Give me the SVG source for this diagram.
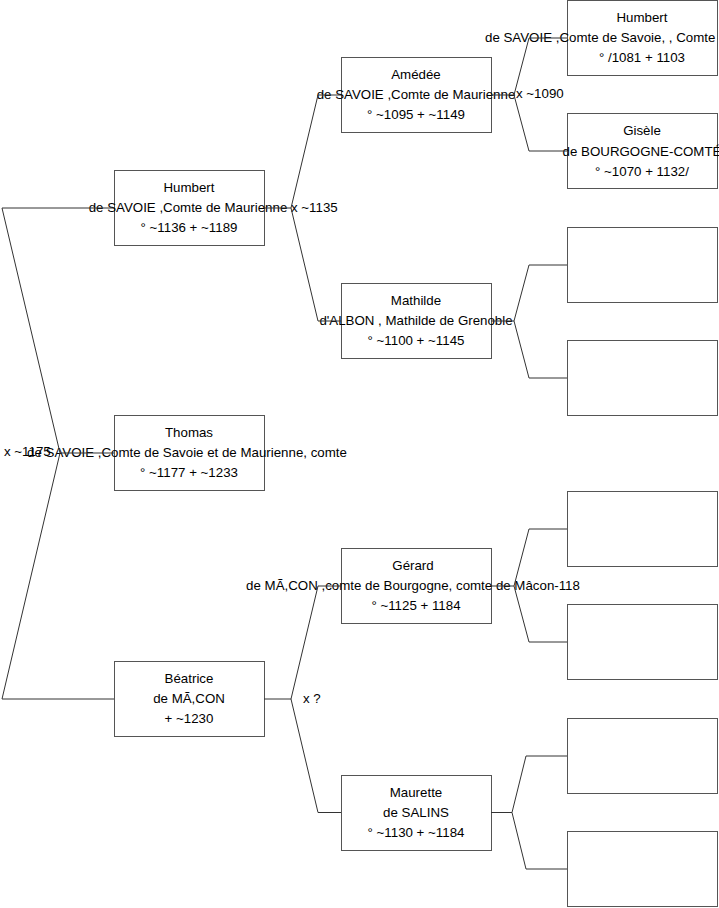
<svg xmlns="http://www.w3.org/2000/svg" width="719" height="908" viewBox="0 0 719 908">
<style>
.box{fill:#fff;stroke:#555;stroke-width:1}
.t{font-family:"Liberation Sans",Arial,sans-serif;font-size:13.3px;fill:#000;text-anchor:middle}
.m{font-family:"Liberation Sans",Arial,sans-serif;font-size:13.3px;fill:#000}
.c{fill:none;stroke:#333;stroke-width:1}
</style>
<rect width="719" height="908" fill="#fff"/>
<g id="n-humbert1">
<rect class="box" x="567.5" y="0.5" width="150" height="75"/>
<text class="t" x="642" y="22">Humbert</text>
<text class="m" x="485" y="42">de SAVOIE ,Comte de Savoie, , Comte d</text>
<text class="t" x="642" y="62">° /1081 + 1103</text>
</g>
<g id="n-gisele">
<rect class="box" x="567.5" y="113.5" width="150" height="75"/>
<text class="t" x="642" y="135">Gisèle</text>
<text class="t" x="642" y="156">de BOURGOGNE-COMTÉ</text>
<text class="t" x="642" y="176">° ~1070 + 1132/</text>
</g>
<g id="n-e1"><rect class="box" x="567.5" y="227.5" width="150" height="75"/></g>
<g id="n-e2"><rect class="box" x="567.5" y="340.5" width="150" height="75"/></g>
<g id="n-e3"><rect class="box" x="567.5" y="491.5" width="150" height="75"/></g>
<g id="n-e4"><rect class="box" x="567.5" y="604.5" width="150" height="75"/></g>
<g id="n-e5"><rect class="box" x="567.5" y="718.5" width="150" height="75"/></g>
<g id="n-e6"><rect class="box" x="567.5" y="831.5" width="150" height="75"/></g>
<g id="n-amedee">
<rect class="box" x="341.5" y="57.5" width="150" height="75"/>
<text class="t" x="416" y="79">Amédée</text>
<text class="t" x="416" y="99">de SAVOIE ,Comte de Maurienne</text>
<text class="t" x="416" y="119">° ~1095 + ~1149</text>
</g>
<g id="n-mathilde">
<rect class="box" x="341.5" y="283.5" width="150" height="75"/>
<text class="t" x="416" y="305">Mathilde</text>
<text class="t" x="416" y="325">d'ALBON , Mathilde de Grenoble</text>
<text class="t" x="416" y="345">° ~1100 + ~1145</text>
</g>
<g id="n-gerard">
<rect class="box" x="341.5" y="548.5" width="150" height="75"/>
<text class="t" x="413" y="570">Gérard</text>
<text class="t" x="413" y="590">de MÃ,CON ,comte de Bourgogne, comte de Mâcon-118</text>
<text class="t" x="416" y="610">° ~1125 + 1184</text>
</g>
<g id="n-maurette">
<rect class="box" x="341.5" y="775.5" width="150" height="75"/>
<text class="t" x="416" y="797">Maurette</text>
<text class="t" x="416" y="817">de SALINS</text>
<text class="t" x="416" y="837">° ~1130 + ~1184</text>
</g>
<g id="n-humbert3">
<rect class="box" x="114.5" y="170.5" width="150" height="75"/>
<text class="t" x="189" y="192">Humbert</text>
<text class="t" x="188" y="212">de SAVOIE ,Comte de Maurienne</text>
<text class="t" x="189" y="232">° ~1136 + ~1189</text>
</g>
<g id="n-thomas">
<rect class="box" x="114.5" y="415.5" width="150" height="75"/>
<text class="t" x="189" y="437">Thomas</text>
<text class="t" x="187" y="457">de SAVOIE ,Comte de Savoie et de Maurienne, comte</text>
<text class="t" x="189" y="477">° ~1177 + ~1233</text>
</g>
<g id="n-beatrice">
<rect class="box" x="114.5" y="661.5" width="150" height="75"/>
<text class="t" x="189" y="683">Béatrice</text>
<text class="t" x="189" y="703">de MÃ,CON</text>
<text class="t" x="189" y="723">+ ~1230</text>
</g>
<g id="labels">
<text class="m" x="4" y="456">x ~1175</text>
<text class="m" x="291" y="212">x ~1135</text>
<text class="m" x="516" y="98">x ~1090</text>
<text class="m" x="303" y="703">x ?</text>
</g>
<g id="connectors">
<polyline class="c" points="114,208 2,208 60,453 2,699 114,699"/>
<line class="c" x1="60" y1="453" x2="114" y2="453"/>
<polyline class="c" points="341,95 318,95 291,208 318,321 341,321"/>
<line class="c" x1="264" y1="208" x2="291" y2="208"/>
<polyline class="c" points="341,586 318,586 291,699 318,812.5 341,812.5"/>
<line class="c" x1="264" y1="699" x2="291" y2="699"/>
<polyline class="c" points="567,38 529,38 514,95 529,151 567,151"/>
<line class="c" x1="491" y1="95" x2="514" y2="95"/>
<polyline class="c" points="567,265 529,265 514,321 529,378 567,378"/>
<line class="c" x1="491" y1="321" x2="514" y2="321"/>
<polyline class="c" points="567,529 529,529 514,586 529,642 567,642"/>
<line class="c" x1="491" y1="586" x2="514" y2="586"/>
<polyline class="c" points="567,756 526,756 512,812.5 526,869 567,869"/>
<line class="c" x1="491" y1="812.5" x2="512" y2="812.5"/>
</g>
</svg>
